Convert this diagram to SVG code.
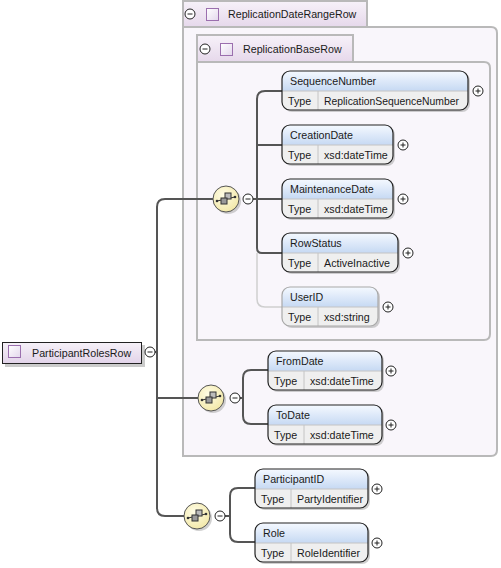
<svg xmlns="http://www.w3.org/2000/svg" width="501" height="568" viewBox="0 0 501 568">
<defs>
<linearGradient id="gHead" x1="0" y1="0" x2="0" y2="1"><stop offset="0" stop-color="#f5f9ff"/><stop offset="1" stop-color="#c6d9f3"/></linearGradient>
<linearGradient id="gTab" x1="0" y1="0" x2="0" y2="1"><stop offset="0" stop-color="#f7f2f9"/><stop offset="1" stop-color="#e6d8eb"/></linearGradient>
<linearGradient id="gRoot" x1="0" y1="0" x2="0" y2="1"><stop offset="0" stop-color="#f6f1f8"/><stop offset="1" stop-color="#e2d3e9"/></linearGradient>
<linearGradient id="gSq" x1="0" y1="0" x2="1" y2="1"><stop offset="0" stop-color="#ffffff"/><stop offset="1" stop-color="#e3d7ec"/></linearGradient>
<radialGradient id="gComp" cx="0.4" cy="0.35" r="0.7"><stop offset="0" stop-color="#fffde6"/><stop offset="1" stop-color="#f2e7a6"/></radialGradient>
<g id="minus"><circle r="5" fill="#fff" stroke="#222" stroke-width="1"/><line x1="-2.5" y1="0" x2="2.5" y2="0" stroke="#222" stroke-width="1"/></g>
<g id="plus"><circle r="5" fill="#fff" stroke="#222" stroke-width="1"/><line x1="-2.5" y1="0" x2="2.5" y2="0" stroke="#222" stroke-width="1"/><line x1="0" y1="-2.5" x2="0" y2="2.5" stroke="#222" stroke-width="1"/></g>
<g id="sq"><rect x="0.5" y="0.5" width="12" height="12" fill="url(#gSq)" stroke="#9b6fae" stroke-width="1"/></g>
<g id="comp">
<circle cx="2" cy="2" r="13" fill="#b0b0b0" opacity="0.6"/>
<circle r="13" fill="url(#gComp)" stroke="#555" stroke-width="1"/>
<line x1="-9" y1="2" x2="9" y2="-2" stroke="#333" stroke-width="1"/>
<circle cx="-9" cy="2" r="1.3" fill="#333"/>
<circle cx="9" cy="-2" r="1.3" fill="#333"/>
<rect x="-1" y="-6" width="6" height="6" fill="#bbb" stroke="#333" stroke-width="1"/>
<rect x="-5" y="-1" width="6" height="6" fill="#999" stroke="#333" stroke-width="1"/>
</g>
</defs>
<style>
text{font-family:"Liberation Sans",Arial,sans-serif;font-size:10.7px;fill:#1a1a1a}
.shadow{fill:#a8a8a8;opacity:0.55}
.ebody{fill:#efefef}
.ehead{fill:url(#gHead)}
.div{stroke:#c4c4c4;stroke-width:1}
.eborder{fill:none;stroke:#222;stroke-width:1.2}
.opt .eborder{stroke:#a8a8a8}
.gframe{fill:#f9f6fb;stroke:#b9b9b9;stroke-width:2}
.gtab{fill:url(#gTab);stroke:#b9b9b9;stroke-width:2}
.conn{fill:none;stroke:#555;stroke-width:2}
.connopt{fill:none;stroke:#cfcfcf;stroke-width:1.5}
</style>

<!-- group frames -->
<g id="ReplicationDateRangeRow">
<path class="gframe" d="M183,27 H491 Q497,27 497,33 V450 Q497,456 491,456 H183 Z"/>
<rect class="gtab" x="183" y="1" width="184" height="26"/>
<use href="#minus" x="190" y="14"/>
<use href="#sq" x="206" y="8"/>
<text x="228" y="18">ReplicationDateRangeRow</text>
</g>
<g id="ReplicationBaseRow">
<path class="gframe" d="M197,62 H484 Q490,62 490,68 V334 Q490,340 484,340 H197 Z"/>
<rect class="gtab" x="197" y="35" width="156" height="27"/>
<use href="#minus" x="205" y="49"/>
<use href="#sq" x="220" y="43"/>
<text x="243" y="53">ReplicationBaseRow</text>
</g>

<!-- connectors -->
<g id="connectors">
<path class="conn" d="M155,352 H157"/>
<path class="conn" d="M213,199 H165 Q157,199 157,207 V508 Q157,516 165,516 H184"/>
<path class="conn" d="M157,398 H198"/>
<path class="conn" d="M253,199 H282"/>
<path class="connopt" d="M257,253 V299 Q257,307 265,307 H282"/>
<path class="conn" d="M282,91 H265 Q257,91 257,99 V248 Q257,253 262,253 H282"/>
<path class="conn" d="M257,145 H282"/>
<path class="conn" d="M240,398 H243"/>
<path class="conn" d="M268,370 H251 Q243,370 243,378 V416 Q243,424 251,424 H268"/>
<path class="conn" d="M225,516 H230"/>
<path class="conn" d="M255,488 H238 Q230,488 230,496 V534 Q230,542 238,542 H255"/>
</g>

<!-- root -->
<g id="ParticipantRolesRow">
<rect x="5" y="345" width="140" height="22" fill="#a8a8a8" opacity="0.6"/>
<rect x="2.5" y="342.5" width="139" height="21" fill="url(#gRoot)" stroke="#222" stroke-width="1"/>
<use href="#sq" x="8" y="345"/>
<text x="32" y="357">ParticipantRolesRow</text>
<use href="#minus" x="150" y="352"/>
</g>

<!-- compositors -->
<g id="seq1"><use href="#comp" x="226" y="199"/><use href="#minus" x="248" y="199"/></g>
<g id="seq2"><use href="#comp" x="211" y="398"/><use href="#minus" x="235" y="398"/></g>
<g id="seq3"><use href="#comp" x="197" y="516"/><use href="#minus" x="220" y="516"/></g>

<!-- elements -->
<g id="SequenceNumber" transform="translate(282,71)">
<rect class="shadow" x="2" y="2" width="186" height="39" rx="8"/>
<rect class="ebody" width="186" height="39" rx="8"/>
<path class="ehead" d="M0,20 V8 Q0,0 8,0 H178 Q186,0 186,8 V20 Z"/>
<line class="div" x1="0" y1="20" x2="186" y2="20"/><line class="div" x1="36" y1="20" x2="36" y2="39"/>
<rect class="eborder" width="186" height="39" rx="8"/>
<text x="8" y="14">SequenceNumber</text><text x="6" y="34">Type</text><text x="42" y="34" textLength="135" lengthAdjust="spacingAndGlyphs">ReplicationSequenceNumber</text>
<use href="#plus" x="196" y="20"/>
</g>
<g id="CreationDate" transform="translate(282,125)">
<rect class="shadow" x="2" y="2" width="111" height="39" rx="8"/>
<rect class="ebody" width="111" height="39" rx="8"/>
<path class="ehead" d="M0,20 V8 Q0,0 8,0 H103 Q111,0 111,8 V20 Z"/>
<line class="div" x1="0" y1="20" x2="111" y2="20"/><line class="div" x1="36" y1="20" x2="36" y2="39"/>
<rect class="eborder" width="111" height="39" rx="8"/>
<text x="8" y="14">CreationDate</text><text x="6" y="34">Type</text><text x="42" y="34">xsd:dateTime</text>
<use href="#plus" x="121" y="20"/>
</g>
<g id="MaintenanceDate" transform="translate(282,179)">
<rect class="shadow" x="2" y="2" width="111" height="39" rx="8"/>
<rect class="ebody" width="111" height="39" rx="8"/>
<path class="ehead" d="M0,20 V8 Q0,0 8,0 H103 Q111,0 111,8 V20 Z"/>
<line class="div" x1="0" y1="20" x2="111" y2="20"/><line class="div" x1="36" y1="20" x2="36" y2="39"/>
<rect class="eborder" width="111" height="39" rx="8"/>
<text x="8" y="14">MaintenanceDate</text><text x="6" y="34">Type</text><text x="42" y="34">xsd:dateTime</text>
<use href="#plus" x="121" y="20"/>
</g>
<g id="RowStatus" transform="translate(282,233)">
<rect class="shadow" x="2" y="2" width="116" height="39" rx="8"/>
<rect class="ebody" width="116" height="39" rx="8"/>
<path class="ehead" d="M0,20 V8 Q0,0 8,0 H108 Q116,0 116,8 V20 Z"/>
<line class="div" x1="0" y1="20" x2="116" y2="20"/><line class="div" x1="36" y1="20" x2="36" y2="39"/>
<rect class="eborder" width="116" height="39" rx="8"/>
<text x="8" y="14">RowStatus</text><text x="6" y="34">Type</text><text x="42" y="34">ActiveInactive</text>
<use href="#plus" x="126" y="20"/>
</g>
<g id="UserID" class="opt" transform="translate(282,287)">
<rect class="shadow" x="2" y="2" width="96" height="39" rx="8"/>
<rect class="ebody" width="96" height="39" rx="8"/>
<path class="ehead" d="M0,20 V8 Q0,0 8,0 H88 Q96,0 96,8 V20 Z"/>
<line class="div" x1="0" y1="20" x2="96" y2="20"/><line class="div" x1="36" y1="20" x2="36" y2="39"/>
<rect class="eborder" width="96" height="39" rx="8"/>
<text x="8" y="14">UserID</text><text x="6" y="34">Type</text><text x="42" y="34">xsd:string</text>
<use href="#plus" x="106" y="20"/>
</g>
<g id="FromDate" transform="translate(268,351)">
<rect class="shadow" x="2" y="2" width="114" height="39" rx="8"/>
<rect class="ebody" width="114" height="39" rx="8"/>
<path class="ehead" d="M0,20 V8 Q0,0 8,0 H106 Q114,0 114,8 V20 Z"/>
<line class="div" x1="0" y1="20" x2="114" y2="20"/><line class="div" x1="36" y1="20" x2="36" y2="39"/>
<rect class="eborder" width="114" height="39" rx="8"/>
<text x="8" y="14">FromDate</text><text x="6" y="34">Type</text><text x="42" y="34">xsd:dateTime</text>
<use href="#plus" x="123" y="20"/>
</g>
<g id="ToDate" transform="translate(268,405)">
<rect class="shadow" x="2" y="2" width="114" height="39" rx="8"/>
<rect class="ebody" width="114" height="39" rx="8"/>
<path class="ehead" d="M0,20 V8 Q0,0 8,0 H106 Q114,0 114,8 V20 Z"/>
<line class="div" x1="0" y1="20" x2="114" y2="20"/><line class="div" x1="36" y1="20" x2="36" y2="39"/>
<rect class="eborder" width="114" height="39" rx="8"/>
<text x="8" y="14">ToDate</text><text x="6" y="34">Type</text><text x="42" y="34">xsd:dateTime</text>
<use href="#plus" x="123" y="20"/>
</g>
<g id="ParticipantID" transform="translate(255,469)">
<rect class="shadow" x="2" y="2" width="113" height="39" rx="8"/>
<rect class="ebody" width="113" height="39" rx="8"/>
<path class="ehead" d="M0,20 V8 Q0,0 8,0 H105 Q113,0 113,8 V20 Z"/>
<line class="div" x1="0" y1="20" x2="113" y2="20"/><line class="div" x1="36" y1="20" x2="36" y2="39"/>
<rect class="eborder" width="113" height="39" rx="8"/>
<text x="8" y="14">ParticipantID</text><text x="6" y="34">Type</text><text x="42" y="34">PartyIdentifier</text>
<use href="#plus" x="122" y="20"/>
</g>
<g id="Role" transform="translate(255,523)">
<rect class="shadow" x="2" y="2" width="113" height="39" rx="8"/>
<rect class="ebody" width="113" height="39" rx="8"/>
<path class="ehead" d="M0,20 V8 Q0,0 8,0 H105 Q113,0 113,8 V20 Z"/>
<line class="div" x1="0" y1="20" x2="113" y2="20"/><line class="div" x1="36" y1="20" x2="36" y2="39"/>
<rect class="eborder" width="113" height="39" rx="8"/>
<text x="8" y="14">Role</text><text x="6" y="34">Type</text><text x="42" y="34">RoleIdentifier</text>
<use href="#plus" x="122" y="20"/>
</g>
</svg>
